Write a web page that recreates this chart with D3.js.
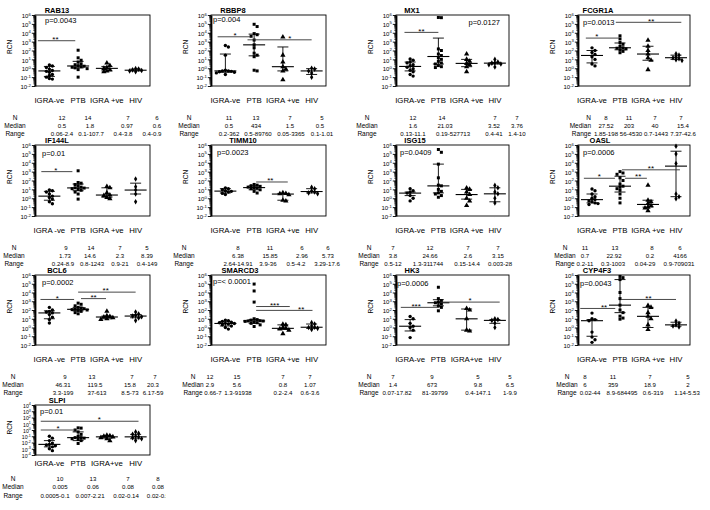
<!DOCTYPE html>
<html><head><meta charset="utf-8">
<script src="https://cdn.jsdelivr.net/npm/d3@7"></script>
<style>body{margin:0;background:#fff}svg{display:block}text{font-family:Arial,"Liberation Sans",sans-serif;fill:#000}</style>
</head><body><svg id="c" width="710" height="510"></svg>
<script>
// ---------------- DATA ----------------
const genes = ["RAB13","RBBP8","MX1","FCGR1A","IF144L","TIMM10","ISG15","OASL","BCL6","SMARCD3","HK3","CYP4F3","SLPI"];
const groupKeys = ["g0","g1","g2","g3"];
const catSets = [["IGRA-ve","PTB","IGRA +ve","HIV"],["IGRA -ve","PTB","IGRA +ve","HIV"],["IGRA-ve","PTB","IGRA+ve","HIV"]];
const catVariant = [0,0,0,0,1,0,0,0,1,0,2,0,2];
const pTexts = ["p=0.0043","p=0.004","p=0.0127","p=0.0013","p=0.01","p=0.0023","p=0.0409","p=0.0006","p=0.0002","p=< 0.0001","p=0.0006","p=0.0043","p=0.01"];
const nCounts = [[12,14,7,6],[11,13,7,5],[12,14,7,7],[8,11,7,7],[9,14,7,5],[8,11,6,6],[7,12,7,7],[11,13,8,6],[9,13,7,7],[12,15,7,7],[7,9,5,5],[8,11,7,5],[10,13,7,8]];
const medianLabels = [["0.5","1.8","0.97","0.6"],["0.5","434","1.5","0.5"],["1.6","21.03","3.52","3.76"],["27.52","203","40","15.4"],["1.73","14.6","2.3","8.39"],["6.38","15.85","2.96","5.73"],["3.8","24.66","2.6","3.15"],["0.7","22.92","0.2","4166"],["46.31","119.5","15.8","20.3"],["2.9","5.6","0.8","1.07"],["1.4","673","9.8","6.5"],["6","359","18.9","2"],["0.005","0.06","0.08","0.08"]];
const rangeLabels = [["0.06-2.4","0.1-107.7","0.4-3.8","0.4-0.9"],["0.2-362","0.5-89760","0.05-3365","0.1-1.01"],["0.13-11.1","0.19-527713","0.4-41","1.4-10"],["1.85-198","56-4530","0.7-1443","7.37-42.6"],["0.24-8.9","0.8-1243","0.9-21","0.4-149"],["2.64-14.91","3.9-36","0.5-4.2","3.29-17.6"],["0.5-12","1.3-311744","0.15-14.4","0.003-28"],["0.2-11","0.3-1003","0.04-29","0.9-709031"],["3.3-199","37-613","8.5-73","6.17-59"],["0.66-7","1.3-91938","0.2-2.4","0.6-3.6"],["0.07-17.82","81-39799","0.4-147.1","1-9.9"],["0.02-44","8.9-684495","0.6-319","1.14-5.53"],["0.0005-0.1","0.007-2.21","0.02-0.14","0.02-0.5"]];
const medians = [[0.5,1.8,0.97,0.6],[0.5,434,1.5,0.5],[1.6,21.03,3.52,3.76],[27.52,203,40,15.4],[1.73,14.6,2.3,8.39],[6.38,15.85,2.96,5.73],[3.8,24.66,2.6,3.15],[0.7,22.92,0.2,4166],[46.31,119.5,15.8,20.3],[2.9,5.6,0.8,1.07],[1.4,673,9.8,6.5],[6,359,18.9,2],[0.005,0.06,0.08,0.08]];
const iqrLow = [[0.12,1.1,0.5,0.5],[0.35,25,0.5,0.2],[0.5,3,1.5,3],[4,120,8,10],[0.6,7,1.3,3],[4,9,0.6,4],[2,4,0.8,0.4],[0.3,5,0.1,1.5],[10,80,10,13],[1.5,3,0.6,0.8],[0.4,300,0.5,3],[0.1,50,1,1.4],[0.002,0.02,0.05,0.04]];
const iqrHigh = [[1.6,6,1.6,0.8],[40,7000,250,0.9],[5,2500,10,4.5],[100,700,300,30],[6,40,15,50],[12,25,3.5,12],[5,7000,10,15],[3,300,0.6,200000],[80,200,20,30],[5,8,2,2.5],[8,1500,130,8],[8,300000,200,4],[0.02,0.5,0.12,0.2]];

const ptsRAB13 = [[0.06,0.07,0.1,0.15,0.2,0.35,0.45,0.55,0.8,1.2,1.8,2.4],[0.1,0.7,0.9,1.1,1.3,1.5,1.7,1.9,2.5,3.2,5,8,15,107.7],[0.4,0.5,0.7,0.97,1.2,2.0,3.8],[0.4,0.5,0.55,0.65,0.8,0.9]];
const ptsRBBP8 = [[0.2,0.3,0.35,0.4,0.45,0.5,0.5,0.6,30,250,362],[0.5,0.6,20,30,50,200,434,1500,4000,6000,8000,50000,89760],[0.05,0.5,0.8,1.5,5,30,3365],[0.1,0.3,0.5,0.8,1.01]];
const ptsMX1 = [[0.13,0.2,0.4,0.6,0.9,1.3,1.9,2.5,4,5,8,11.1],[1.2,1.5,2,3,4,6,10,15,27,40,100,150,500000,527713],[0.4,1.5,2.5,3.52,6,10,41],[1.4,2.5,3,3.76,4,5,10]];
const ptsFCGR1A = [[1.85,3,10,20,35,60,100,198],[56,80,120,150,180,203,300,500,800,2000,4530],[0.7,8,15,40,100,300,1443],[7.37,9,12,15.4,20,30,42.6]];
const ptsIF144L = [[0.24,0.4,0.8,1.2,1.73,3,5,7,8.9],[0.8,3,5,8,10,12,14,15,18,25,35,50,60,1243],[0.9,1.2,2,2.3,4,15,21],[0.4,3,8.39,20,149]];
const ptsTIMM10 = [[2.64,3.5,5,6,7,9,12,14.91],[3.9,6,9,12,14,15.85,18,22,26,30,36],[0.5,0.6,2.5,3.2,3.5,4.2],[3.29,4,5,6.5,12,17.6]];
const ptsISG15 = [[0.5,1,2,3.8,5,7,12],[1.3,2,3,4,6,10,25,30,200,7000,150000,311744],[0.15,0.5,1,2.6,5,10,14.4],[0.003,0.3,1,3.15,5,15,28]];
const ptsOASL = [[0.2,0.25,0.3,0.4,0.5,0.7,1,1.5,3,7,11],[0.3,1,3,8,12,18,22.92,40,100,200,500,700,1003],[0.04,0.08,0.1,0.15,0.25,0.4,0.6,29],[0.9,1.5,3,8329,100000,709031]];
const ptsBCL6 = [[3.3,8,15,30,46.31,60,70,100,199],[37,50,70,90,100,110,119.5,140,170,200,300,450,613],[8.5,10,13,15.8,18,22,73],[6.17,12,17,20.3,25,35,59]];
const ptsSMARCD3 = [[0.66,1,1.5,2,2.5,2.9,3,3.5,4,5,6,7],[1.3,2,3,3.5,4,5,5.5,5.6,6,7,8,10,800,15000,91938],[0.2,0.5,0.7,0.8,1,2,2.4],[0.6,0.8,1,1.07,1.5,2.5,3.6]];
const ptsHK3 = [[0.07,0.5,1,1.4,3,10,17.82],[81,200,300,500,673,800,1200,2000,39799],[0.4,0.5,9.8,100,147.1],[1,3,6.5,8,9.9]];
const ptsCYP4F3 = [[0.02,0.04,0.08,0.3,6,8,10,44],[8.9,12,20,50,100,359,2000,10000,300000,500000,684495],[0.6,2,10,18.9,50,200,319],[1.14,1.5,2,3,5.53]];
const ptsSLPI = [[0.0005,0.001,0.002,0.003,0.004,0.005,0.008,0.02,0.05,0.1],[0.007,0.02,0.03,0.04,0.05,0.06,0.06,0.1,0.2,0.5,1,2,2.21],[0.02,0.04,0.06,0.08,0.1,0.12,0.14],[0.02,0.04,0.06,0.08,0.1,0.2,0.3,0.5]];
const allPoints = [ptsRAB13,ptsRBBP8,ptsMX1,ptsFCGR1A,ptsIF144L,ptsTIMM10,ptsISG15,ptsOASL,ptsBCL6,ptsSMARCD3,ptsHK3,ptsCYP4F3,ptsSLPI];

const yExpRanges = [[-2,6],[-2,6],[-2,6],[-2,6],[-2,6],[-2,6],[-2,6],[-2,6],[-2,6],[-2,6],[-2,6],[-2,6],[-4,4]];
// significance bars: [panel, fromGroup, toGroup, RCN level, stars]
const sigBars = [[0,0,1,1260,"**"],[1,0,1,3500,"*"],[1,1,3,1600,"*"],[2,0,1,11000,"**"],[3,0,1,2500,"*"],[3,1,3,150000,"**"],[4,0,1,1000,"*"],[5,1,2,68,"**"],[7,0,1,178,"*"],[7,1,3,1600,"**"],[7,1,2,178,"**"],[8,0,1,1600,"*"],[8,1,3,11000,"**"],[8,1,2,2000,"**"],[9,1,2,250,"***"],[9,1,3,90,"**"],[10,0,1,200,"***"],[10,1,3,800,"*"],[11,0,1,150,"**"],[11,1,3,1600,"**"],[12,0,1,1,"*"],[12,0,3,25,"*"]];

// ---------------- LAYOUT ----------------
const sigGeom = [[-0.4,-0.1,0.47],[-0.27,-0.13,0.53],[-0.23,0,0.66],[-0.2,0,0.5],[-0.22,-0.04,0.33],[-0.15,0.19,0.54],[-0.28,-0.2,0.47],[0.07,0.17,0.45],[-0.29,-0.18,0.5],[0.07,0.14,0.5],[0.18,-0.04,0.6],[-0.31,-0.14,0.5],[0,0,0.48],[0.1,-0.03,0.5],[0.07,0.24,0.55],[0.07,0.03,0.8],[-0.33,0.03,0.4],[0.07,0.17,0.5],[-0.42,-0.17,0.68],[0.03,0,0.5],[-0.3,-0.1,0.5],[-0.3,0.1,0.6]];
const panelCol = [0,1,2,3,0,1,2,3,0,1,2,3,0];
const panelRow = [0,0,0,0,1,1,1,1,2,2,2,2,3];
const colLeft = [35,211,396,578], colWidth = [115,115,113,112];
const rowTop = [15,145,275,405], rowHeight = [71,71,70,50];
const rowTextOff = [[17,34,41.5,49.5],[17,34,41.5,49.5],[17,34,41.5,49.5],[11,26,34,42.5]];
const titleX = [57,233,412,598,57,243,415,600,57,240,412,597,57];
const pPos = [[10,5,"start"],[2,4,"start"],[-9,7,"end"],[5,7,"start"],[7,8,"start"],[6,7,"start"],[4,7,"start"],[5,7,"start"],[7,7,"start"],[2,6,"start"],[1,8,"start"],[2,8,"start"],[5,6,"start"]];
const labelX = [15,189,367,591,14,184,369,565,13,193,369,567,13];
const labelAnchor = ["middle","middle","middle","end","middle","middle","middle","middle","middle","middle","middle","middle","middle"];
const nX = [[62,88,128,157],[229,256,290,322],[413,442,495,517],[606,629,655,681],[66,91,120,147],[238,270,302,328],[393,430,468,498],[585,615,652,680],[65,92,132,155],[210,237,283,310],[393,432,478,510],[585,613,650,688],[60,93,128,158]];
const medX = [[62,90,127,157],[229,256,290,320],[413,445,494,517],[606,629,655,683],[65,90,120,147],[238,270,302,328],[393,430,468,498],[585,614,650,680],[63,95,130,153],[210,237,283,310],[393,432,478,510],[585,613,650,688],[60,93,128,158]];
const rngX = [[62,91,123,152],[229,258,291,322],[413,453,494,517],[606,631,656,683],[63,92,120,147],[238,268,296,327],[393,428,467,500],[585,613,645,679],[63,97,130,153],[213,238,283,310],[397,435,478,510],[590,622,653,687],[55,90,126,158]];
const symbolTypes = [d3.symbolCircle,d3.symbolSquare,d3.symbolTriangle,d3.symbolDiamond];

const svg = d3.select("#c");
const defs = svg.append("defs");

function swarm(vals, y, cx){
  const sorted = vals.map(v=>({v, py:y(v)})).sort((a,b)=>a.py-b.py);
  const placed = [];
  const offs = [0,3,-3,6,-6,9,-9,12,-12,15,-15];
  sorted.forEach(p=>{
    let chosen = offs[offs.length-1];
    for(const o of offs){
      const px = cx+o;
      if(!placed.some(q=>Math.abs(q.px-px)<2.9 && Math.abs(q.py-p.py)<2.9)){chosen=o;break;}
    }
    p.px = cx+chosen; placed.push(p);
  });
  return placed;
}

genes.forEach((gene,i)=>{
  const col = panelCol[i], row = panelRow[i];
  const x0 = colLeft[col], w = colWidth[col], y0 = rowTop[row], h = rowHeight[row];
  const g = svg.append("g");
  const [e0,e1] = yExpRanges[i];
  const x = d3.scalePoint().domain(groupKeys).range([x0,x0+w]).padding(0.5);
  const y = d3.scaleLog().domain([10**e0,10**e1]).range([y0+h,y0]);
  const step = x.step();

  defs.append("clipPath").attr("id","cp"+i).append("rect").attr("x",x0).attr("y",y0-2).attr("width",w).attr("height",h+4);

  g.append("rect").attr("x",x0).attr("y",y0).attr("width",w).attr("height",h)
    .attr("fill","none").attr("stroke","#000").attr("stroke-width",0.9);

  const minors = [];
  for(let e=e0;e<e1;e++) for(let k=2;k<=9;k++) minors.push(k*10**e);
  g.append("g").attr("transform",`translate(${x0},0)`)
    .call(d3.axisLeft(y).tickValues(minors).tickSize(1.8).tickFormat(""))
    .call(a=>a.select(".domain").remove())
    .call(a=>a.selectAll("line").attr("stroke","#000").attr("stroke-width",0.6));
  const majors = d3.range(e0,e1+1).map(e=>10**e);
  const fs = h<60 ? 5.2 : 6;
  g.append("g").attr("transform",`translate(${x0},0)`)
    .call(d3.axisLeft(y).tickValues(majors).tickSize(3.2).tickSizeOuter(0).tickPadding(1))
    .call(a=>a.select(".domain").attr("stroke","#000").attr("stroke-width",1.8))
    .call(a=>a.selectAll("line").attr("stroke","#000").attr("stroke-width",0.9))
    .call(a=>a.selectAll(".tick text").each(function(d){
      const t = d3.select(this);
      t.text("").attr("font-size",fs).attr("font-family","Arial, Liberation Sans, sans-serif").attr("fill","#000").attr("dy","0.45em");
      t.append("tspan").text("10");
      t.append("tspan").attr("dy",-2.6).attr("font-size",fs*0.7).text(Math.round(Math.log10(d)));
    }));

  g.append("text").attr("transform",`translate(${x0-23},${y0+h*0.45}) rotate(-90)`)
    .attr("text-anchor","middle").attr("font-size",6.5).text("RCN");

  g.append("text").attr("x",titleX[i]).attr("y",y0-2).attr("text-anchor","middle")
    .attr("font-size",7.5).attr("font-weight","bold").text(gene);

  const pg = g.append("g").attr("clip-path",`url(#cp${i})`);
  allPoints[i].forEach((vals,gi)=>{
    const placed = swarm(vals,y,x(groupKeys[gi]));
    pg.selectAll(null).data(placed).join("path")
      .attr("d",d3.symbol().type(symbolTypes[gi]).size(gi===2?12:9))
      .attr("transform",d=>`translate(${d.px},${d.py})`)
      .attr("fill","#000");
  });

  groupKeys.forEach((k,gi)=>{
    const cx = x(k);
    const lo = y(iqrLow[i][gi]), hi = y(iqrHigh[i][gi]), md = y(medians[i][gi]);
    pg.append("line").attr("x1",cx).attr("x2",cx).attr("y1",lo).attr("y2",hi).attr("stroke","#000").attr("stroke-width",0.9);
    [lo,hi].forEach(v=>pg.append("line").attr("x1",cx-5.5).attr("x2",cx+5.5).attr("y1",v).attr("y2",v).attr("stroke","#000").attr("stroke-width",0.9));
    pg.append("line").attr("x1",cx-11).attr("x2",cx+11).attr("y1",md).attr("y2",md).attr("stroke","#000").attr("stroke-width",1.1);
  });

  sigBars.forEach((s,si)=>{
    if(s[0]!==i) return;
    const [dx1,dx2,t] = sigGeom[si];
    const xa = x(groupKeys[s[1]])+dx1*step, xb = x(groupKeys[s[2]])+dx2*step, yy = y(s[3]);
    g.append("line").attr("x1",xa).attr("x2",xb).attr("y1",yy).attr("y2",yy).attr("stroke","#333").attr("stroke-width",0.9);
    g.append("text").attr("x",xa+(xb-xa)*t).attr("y",yy+1.2).attr("text-anchor","middle").attr("font-size",8).text(s[4]);
  });

  const [pdx,pdy,panch] = pPos[i];
  g.append("text").attr("x",panch==="end"? x0+w+pdx : x0+pdx).attr("y",y0+pdy+2.8)
    .attr("text-anchor",panch).attr("font-size",7.5).text(pTexts[i]);

  const tg = g.append("g");
  if(i===12){ defs.append("clipPath").attr("id","cpText").append("rect").attr("x",0).attr("y",0).attr("width",166).attr("height",510); tg.attr("clip-path","url(#cpText)"); }
  const off = rowTextOff[row];
  const yb = y0+h;
  catSets[catVariant[i]].forEach((c,gi)=>{
    tg.append("text").attr("x",x(groupKeys[gi])).attr("y",yb+off[0]).attr("text-anchor","middle").attr("font-size",7.8).text(c);
  });
  const statNames = ["N","Median","Range"];
  const statVals = [nCounts[i].map(String), medianLabels[i], rangeLabels[i]];
  const statXs = [nX[i], medX[i], rngX[i]];
  statNames.forEach((nm,r)=>{
    tg.append("text").attr("x",labelX[i]).attr("y",yb+off[r+1]).attr("text-anchor",labelAnchor[i]).attr("font-size",6.5).text(nm);
    statVals[r].forEach((v,gi)=>{
      tg.append("text").attr("x",statXs[r][gi]).attr("y",yb+off[r+1]).attr("text-anchor","middle").attr("font-size",6.1).text(v);
    });
  });
});
</script></body></html>
